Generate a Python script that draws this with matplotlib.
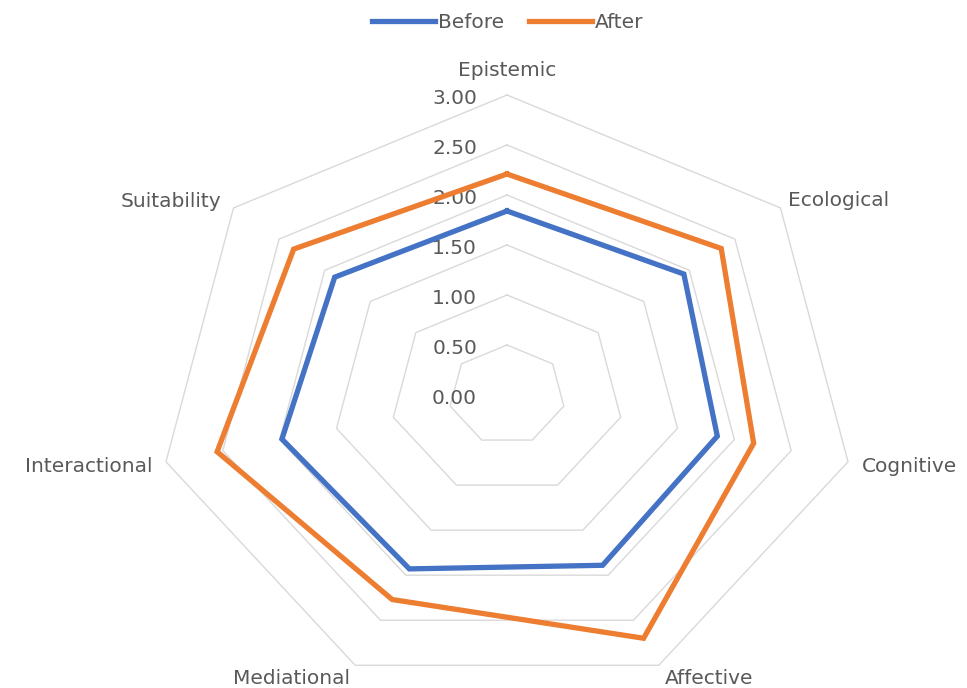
import numpy as np
import matplotlib.pyplot as plt
from matplotlib.lines import Line2D

# Dades del gràfic de radar
categories = ['Epistemic', 'Ecological', 'Cognitive', 'Affective',
              'Mediational', 'Interactional', 'Suitability']
before = [1.84, 1.94, 1.85, 1.89, 1.93, 1.98, 1.89]
after = [2.21, 2.35, 2.17, 2.70, 2.27, 2.55, 2.34]
ring_values = [0.5, 1.0, 1.5, 2.0, 2.5, 3.0]
tick_labels = ['0.00', '0.50', '1.00', '1.50', '2.00', '2.50', '3.00']

plt.rcParams['font.family'] = ['DejaVu Sans']
grey_txt = '#595959'
blue = '#4472C4'
orange = '#ED7D31'
fs = 14.5

n = len(categories)
theta = np.arange(n) * 2 * np.pi / n


def xy(vals):
    """Coordenades cartesianes (tancades) dels vèrtexs."""
    r = np.asarray(vals, dtype=float)
    x = r * np.sin(theta)
    y = r * np.cos(theta)
    return np.append(x, x[0]), np.append(y, y[0])


fig = plt.figure(figsize=(9.67, 6.88), dpi=100)
ax = fig.add_axes([0, 0, 1, 1])
# escala horitzontal i vertical diferents (el gràfic original és estirat)
sx, sy = 116.6, 100.0
cx, cy = 507, 395
ax.set_xlim(-cx / sx, (967 - cx) / sx)
ax.set_ylim((cy - 688) / sy, cy / sy)
ax.axis('off')

# anells de la graella
for rv in ring_values:
    gx, gy = xy([rv] * n)
    ax.plot(gx, gy, color='#d9d9d9', lw=1.0, zorder=1)

# etiquetes de l'eix radial
for k, lab in enumerate(tick_labels):
    ax.annotate(lab, (0, k * 0.5), xytext=(-30, -3), textcoords='offset pixels',
                ha='right', va='center', fontsize=fs, color=grey_txt)

# sèries
bx, by = xy(before)
axx, ayy = xy(after)
ax.plot(bx, by, color=blue, lw=3.8, solid_joinstyle='miter', zorder=3)
ax.plot(axx, ayy, color=orange, lw=3.8, solid_joinstyle='miter', zorder=3)

# etiquetes de les categories
offsets = [(0, 25, 'center'), (8, 7, 'left'), (14, -5, 'left'), (6, -13, 'left'),
           (-5, -13, 'right'), (-13, -5, 'right'), (-12, 6, 'right')]
for i, cat in enumerate(categories):
    vx, vy = 3.0 * np.sin(theta[i]), 3.0 * np.cos(theta[i])
    dx, dy, ha = offsets[i]
    ax.annotate(cat, (vx, vy), xytext=(dx, dy), textcoords='offset pixels',
                ha=ha, va='center', fontsize=fs, color=grey_txt)

handles = [Line2D([], [], color=blue, lw=3.8), Line2D([], [], color=orange, lw=3.8)]
fig.legend(handles, ['Before', 'After'], loc='center', bbox_to_anchor=(0.525, 0.967),
           ncol=2, frameon=False, fontsize=fs, handlelength=3.1, handletextpad=0.15,
           columnspacing=1.25, labelcolor=grey_txt)

fig.savefig('out.png', dpi=100)
